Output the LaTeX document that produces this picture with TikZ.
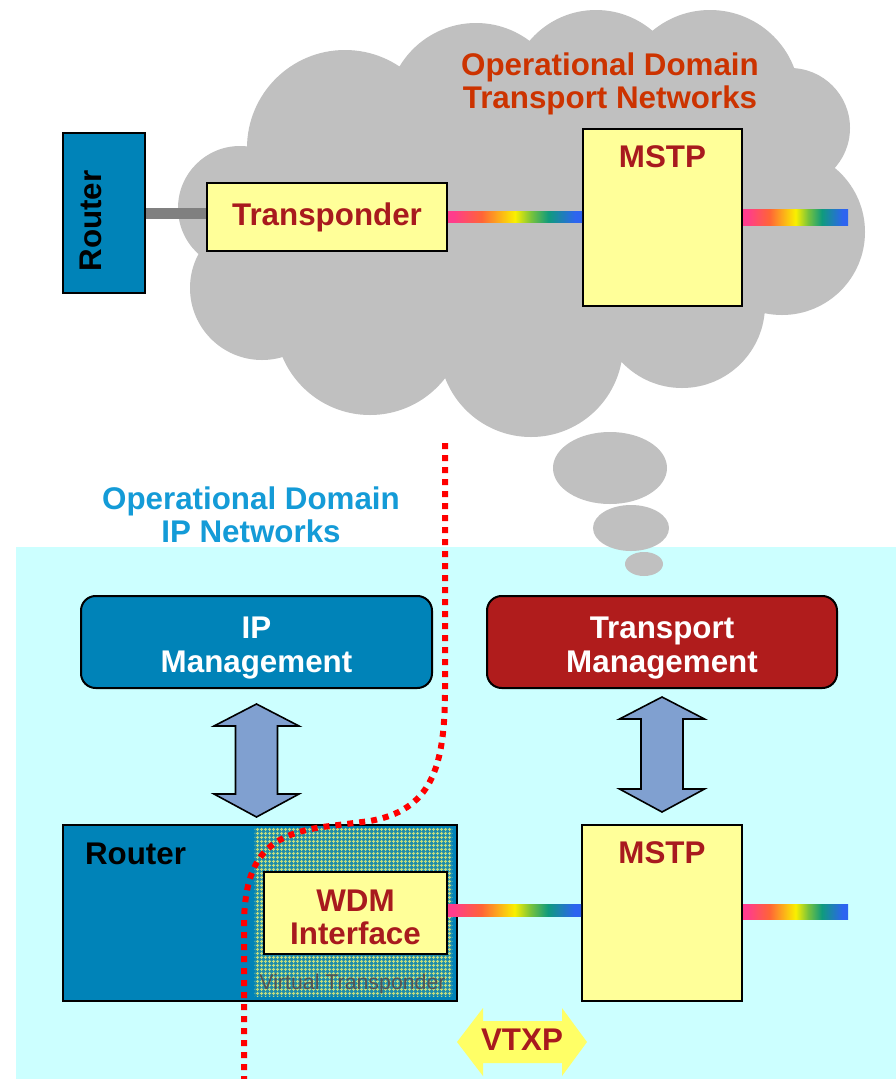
\documentclass[tikz,border=0pt]{standalone}
\usepackage{fontspec}
\setmainfont{Liberation Sans}
\usetikzlibrary{calc,patterns}

\definecolor{cloudgray}{RGB}{192,192,192}
\definecolor{ipbg}{RGB}{204,255,255}
\definecolor{rtrblue}{RGB}{0,131,184}
\definecolor{boxyellow}{RGB}{255,255,153}
\definecolor{txtred}{RGB}{168,26,30}
\definecolor{tmred}{RGB}{176,28,28}
\definecolor{titleorange}{RGB}{204,51,0}
\definecolor{titleblue}{RGB}{20,155,215}
\definecolor{arrowblue}{RGB}{128,160,208}
\definecolor{vtxpyellow}{RGB}{255,255,102}
\definecolor{linkgray}{RGB}{128,128,128}
\definecolor{vtbase}{RGB}{30,140,170}
\definecolor{vtline}{RGB}{195,220,125}
\definecolor{vtgray}{RGB}{85,85,85}
\definecolor{rbpink}{RGB}{255,60,140}
\definecolor{rborange}{RGB}{255,100,55}
\definecolor{rbyellow}{RGB}{250,240,0}
\definecolor{rbgreen}{RGB}{120,195,60}
\definecolor{rbteal}{RGB}{15,155,125}
\definecolor{rbblue}{RGB}{45,100,240}

% spectrum used for the optical links
\pgfdeclarehorizontalshading{rainbow}{100bp}{color(0bp)=(rbpink); color(27bp)=(rbpink);
  color(37.5bp)=(rborange); color(50bp)=(rbyellow); color(56bp)=(rbgreen);
  color(62.5bp)=(rbteal); color(72.5bp)=(rbblue); color(100bp)=(rbblue)}

% fine mesh for the virtual transponder area
\pgfdeclarepatternformonly{plaid}{\pgfpointorigin}{\pgfqpoint{3pt}{3pt}}{\pgfqpoint{3pt}{3pt}}{%
  \pgfsetlinewidth{0.9pt}%
  \pgfpathmoveto{\pgfqpoint{1.5pt}{0pt}}\pgfpathlineto{\pgfqpoint{1.5pt}{3pt}}%
  \pgfpathmoveto{\pgfqpoint{0pt}{1.5pt}}\pgfpathlineto{\pgfqpoint{3pt}{1.5pt}}%
  \pgfusepath{stroke}}

% two-headed block arrow between a top tip (#1) and a bottom tip (#2)
\newcommand{\fatdoublearrow}[2]{%
  \draw[fatarrow] (#1) -- ++(42.5,22) -- ++(-21.5,0) -- ($(#2)+(21,-23)$) -- ++(21.5,0)
    -- (#2) -- ++(-42.5,-23) -- ++(21.5,0) -- ($(#1)+(-21,22)$) -- ++(-21.5,0) -- cycle;}

\begin{document}
\begin{tikzpicture}[x=0.75pt,y=-0.75pt,
  lbl/.style={font=\fontsize{23.5}{25}\selectfont\bfseries, align=center, inner sep=0pt},
  ybox/.style={draw=black, line width=1.5pt, fill=boxyellow, inner sep=0pt},
  bluebox/.style={draw=black, line width=1.5pt, fill=rtrblue, inner sep=0pt},
  mgmt/.style={draw=black, line width=1.5pt, rounded corners=11pt, inner sep=0pt},
  fatarrow/.style={draw=black, line width=1.2pt, fill=arrowblue, line join=miter},
  sepline/.style={red, line width=4.5pt, dash pattern=on 4.5pt off 4.5pt},
  rainbowbar/.style={shading=rainbow},
]
\useasboundingbox (0,0) rectangle (896,1079);
\fill[white] (0,0) rectangle (896,1079);

% IP domain background
\fill[ipbg] (16,547) rectangle (896,1079);

% transport network cloud
\fill[cloudgray]
  (240,208) circle[radius=62]
  (345,148) circle[radius=98]
  (476,112) circle[radius=89]
  (596,97) circle[radius=87]
  (710,100) circle[radius=90]
  (790,128) circle[radius=60]
  (782,232) circle[radius=83]
  (682,305) circle[radius=83]
  (531,345) circle[radius=92]
  (370,320) circle[radius=95]
  (262,288) circle[radius=72]
  (520,220) ellipse[x radius=230, y radius=140];

% thought bubbles
\fill[cloudgray] (610,468) ellipse[x radius=57, y radius=36];
\fill[cloudgray] (631,528) ellipse[x radius=38, y radius=23];
\fill[cloudgray] (644,564) ellipse[x radius=19, y radius=12];

% domain titles
\node[lbl, text=titleorange] (tntitle) at (610,84) {Operational Domain\\Transport Networks};
\node[lbl, text=titleblue] (iptitle) at (251,515) {Operational Domain\\IP Networks};

% ---- transport domain view ----
\node[bluebox, minimum width=61.5pt, minimum height=120pt] (rtrT) at (104,213) {};
\node[lbl, rotate=90] (rtrTlbl) at (91,221) {Router};
\node[ybox, lbl, text=txtred, minimum width=180pt, minimum height=51pt] (tp) at (327,217) {Transponder};
\node[ybox, minimum width=119.25pt, minimum height=132.75pt] (mstpT) at (662.5,217.5) {};
\node[lbl, text=txtred] (mstpTlbl) at (662.5,157) {MSTP};
\coordinate (outT) at (848,217);

\draw[linkgray, line width=8.25pt] (rtrT.east |- 0,213.5) -- (tp.west |- 0,213.5);
\fill[rainbowbar] (tp.east |- 0,211) rectangle (mstpT.west |- 0,222);
\fill[rainbowbar] (mstpT.east |- 0,209) rectangle (outT |- 0,225);

% ---- IP domain view ----
\node[mgmt, fill=rtrblue, minimum width=263.25pt, minimum height=69pt] (ipm) at (256.5,642) {};
\node[lbl, text=white] (ipmlbl) at (256.5,648) {IP\\Management};
\node[mgmt, fill=tmred, minimum width=262.5pt, minimum height=69pt] (tm) at (662,642) {};
\node[lbl, text=white] (tmlbl) at (662,648) {Transport\\Management};

\node[bluebox, minimum width=295.5pt, minimum height=132pt] (rtrB) at (260,913) {};
\node[lbl] (rtrBlbl) at (135.5,854) {Router};

\node[inner sep=0pt, minimum width=147.75pt, minimum height=126pt, fill=vtbase] (vt) at (353.5,912) {};
\fill[pattern=plaid, pattern color=vtline] (vt.south west) rectangle (vt.north east);
\node[font=\fontsize{16}{18}\selectfont, text=vtgray, inner sep=0pt, anchor=base] (vtlbl) at (352.5,989) {Virtual Transponder};

\node[ybox, minimum width=137.25pt, minimum height=61.5pt] (wdm) at (355.5,913) {};
\node[lbl, text=txtred] (wdmlbl) at (355.5,917.5) {WDM\\Interface};

\node[ybox, minimum width=120pt, minimum height=132pt] (mstpB) at (662,913) {};
\node[lbl, text=txtred] (mstpBlbl) at (662,853) {MSTP};
\coordinate (outB) at (848,911.5);

\fill[rainbowbar] (wdm.east |- 0,904) rectangle (mstpB.west |- 0,916);
\fill[rainbowbar] (mstpB.east |- 0,904) rectangle (outB |- 0,919);

% management interfaces
\coordinate (a1t) at ($(ipm.south)+(0,15)$);
\coordinate (a1b) at ($(rtrB.north -| ipm.south)+(0,-7)$);
\fatdoublearrow{a1t}{a1b}
\coordinate (a2t) at ($(tm.south)+(0,8)$);
\coordinate (a2b) at ($(mstpB.north -| tm.south)+(0,-12)$);
\fatdoublearrow{a2t}{a2b}

% VTXP protocol between router and MSTP
\coordinate (vl) at (457,1042);
\coordinate (vr) at (587,1042);
\fill[vtxpyellow] (vl) -- ++(26,-34) -- ++(0,13) -- ($(vr)+(-25,-21)$) -- ++(0,-13)
  -- (vr) -- ++(-25,34) -- ++(0,-13) -- ($(vl)+(26,21)$) -- ++(0,13) -- cycle;
\node[lbl, text=txtred] (vtxp) at (522,1040) {VTXP};

% boundary between the two operational domains
\coordinate (sepT) at (445,443);
\coordinate (sepB) at (244,1079);
\draw[sepline] (sepT) -- (445,690) .. controls (445,770) and (430,810) .. (370,821)
  -- (330,826) .. controls (270,833) and (246,855) .. (244,920) -- (sepB);
\end{tikzpicture}
\end{document}
